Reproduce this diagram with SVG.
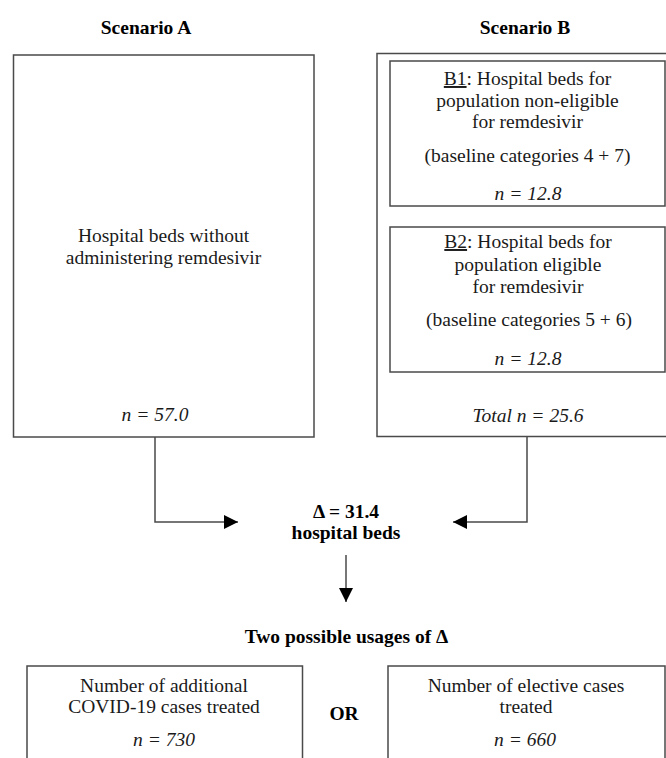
<svg xmlns="http://www.w3.org/2000/svg" width="666" height="758" viewBox="0 0 666 758">
<style>
  text { font-family: "Liberation Serif", "DejaVu Serif", serif; font-weight: 400; font-size: 19.5px; fill: #1a1a1a; text-anchor: middle; }
  .b { font-weight: 700; fill: #000; }
  .i { font-style: italic; }
  .box { fill: none; stroke: #4a4a4a; stroke-width: 1.5; }
  .conn { fill: none; stroke: #4a4a4a; stroke-width: 1.5; }
</style>
<defs>
  <marker id="arrow" markerUnits="userSpaceOnUse" markerWidth="14" markerHeight="14" refX="14" refY="7" orient="auto">
    <path d="M0,0 L14,7 L0,14 z" fill="#000"/>
  </marker>
</defs>
<rect width="666" height="758" fill="#fff"/>

<g id="headings">
  <text class="b" x="146" y="34">Scenario A</text>
  <text class="b" x="525" y="34">Scenario B</text>
</g>

<g id="scenarioA">
  <rect class="box" x="13.5" y="55" width="300.5" height="382"/>
  <text x="163.5" y="242">Hospital beds without</text>
  <text x="163.5" y="264">administering remdesivir</text>
  <text class="i" x="155" y="421">n = 57.0</text>
</g>

<g id="scenarioB">
  <rect class="box" x="377" y="53.5" width="310" height="383"/>
  <text class="i" x="528" y="422">Total n = 25.6</text>
</g>

<g id="B1">
  <rect class="box" x="390" y="61" width="275" height="145"/>
  <text x="527.5" y="85"><tspan text-decoration="underline">B1</tspan>: Hospital beds for</text>
  <text x="527.5" y="106.5">population non-eligible</text>
  <text x="527.5" y="128">for remdesivir</text>
  <text x="527.5" y="162">(baseline categories 4 + 7)</text>
  <text class="i" x="528" y="200">n = 12.8</text>
</g>

<g id="B2">
  <rect class="box" x="390" y="227" width="275" height="145"/>
  <text x="528" y="248"><tspan text-decoration="underline">B2</tspan>: Hospital beds for</text>
  <text x="528" y="270.5">population eligible</text>
  <text x="528" y="293">for remdesivir</text>
  <text x="529" y="326">(baseline categories 5 + 6)</text>
  <text class="i" x="528" y="365">n = 12.8</text>
</g>

<g id="delta">
  <text class="b" x="346" y="518">Δ = 31.4</text>
  <text class="b" x="346" y="539">hospital beds</text>
</g>

<g id="usages">
  <text class="b" x="346.5" y="643">Two possible usages of Δ</text>
</g>

<g id="covid">
  <rect class="box" x="27" y="666" width="275.5" height="120"/>
  <text x="164" y="692">Number of additional</text>
  <text x="164" y="713">COVID-19 cases treated</text>
  <text class="i" x="164" y="746">n = 730</text>
</g>

<g id="or">
  <text class="b" x="344" y="720">OR</text>
</g>

<g id="elective">
  <rect class="box" x="388" y="666" width="277" height="120"/>
  <text x="526" y="692">Number of elective cases</text>
  <text x="526" y="713">treated</text>
  <text class="i" x="525" y="746">n = 660</text>
</g>

<g id="connectors">
  <path class="conn" d="M155,437 V522 H238" marker-end="url(#arrow)"/>
  <path class="conn" d="M527,436.5 V522 H453" marker-end="url(#arrow)"/>
  <path class="conn" d="M346,555 V602" marker-end="url(#arrow)"/>
</g>
</svg>
